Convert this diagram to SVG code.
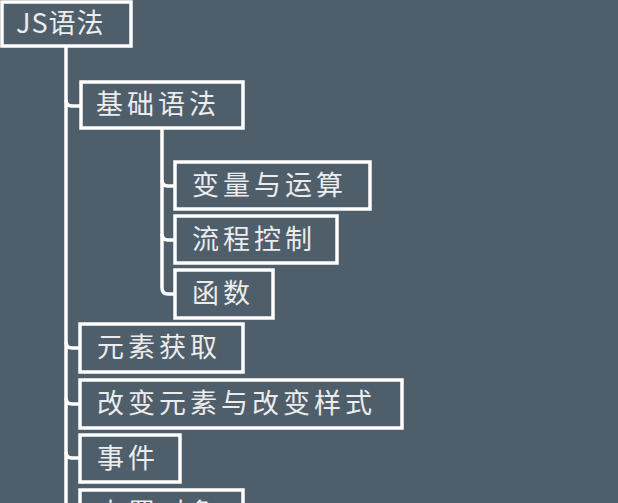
<svg xmlns="http://www.w3.org/2000/svg" width="618" height="503" viewBox="0 0 618 503">
<style>
.b{fill:#4f5e6b;stroke:#fff;stroke-width:3.5}
.t{font-family:"Noto Sans CJK SC","Noto Sans",sans-serif;font-size:27px;letter-spacing:4px;fill:#ececec}
.c{fill:none;stroke:#fff;stroke-width:3.5}
</style>
<rect width="618" height="503" fill="#4f5e6b"/>
<g id="connectors">
<path class="c" d="M66 46V503"/>
<path class="c" d="M66 100Q66 106 72 106H81"/>
<path class="c" d="M66 342Q66 348 72 348H80"/>
<path class="c" d="M66 398Q66 404 72 404H80"/>
<path class="c" d="M66 452Q66 458 72 458H80"/>
<path class="c" d="M162 128V288Q162 294 168 294H175"/>
<path class="c" d="M162 180Q162 186 168 186H175"/>
<path class="c" d="M162 234Q162 240 168 240H175"/>
</g>
<g id="n0"><rect class="b" x="2" y="2" width="129" height="44"/><text class="t" x="16" y="33" style="letter-spacing:1px">JS语法</text></g>
<g id="n1"><rect class="b" x="81" y="82" width="162" height="46"/><text class="t" x="96" y="114">基础语法</text></g>
<g id="n2"><rect class="b" x="175" y="162" width="195" height="47"/><text class="t" x="192" y="195">变量与运算</text></g>
<g id="n3"><rect class="b" x="175" y="216" width="162" height="47"/><text class="t" x="192" y="249">流程控制</text></g>
<g id="n4"><rect class="b" x="175" y="270" width="98" height="48"/><text class="t" x="192" y="303">函数</text></g>
<g id="n5"><rect class="b" x="80" y="324" width="163" height="48"/><text class="t" x="97" y="357">元素获取</text></g>
<g id="n6"><rect class="b" x="80" y="380" width="322" height="48"/><text class="t" x="97" y="413">改变元素与改变样式</text></g>
<g id="n7"><rect class="b" x="80" y="435" width="100" height="47"/><text class="t" x="97" y="468">事件</text></g>
<g id="n8"><rect class="b" x="80" y="490" width="163" height="48"/><text class="t" x="97" y="523">内置对象</text></g>
</svg>
